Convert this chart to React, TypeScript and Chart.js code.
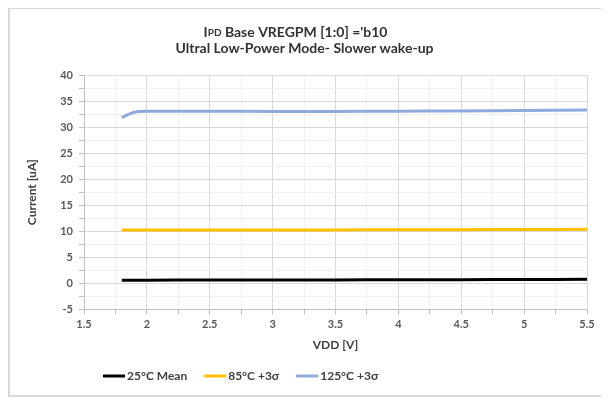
import React, { useEffect, useRef } from "react";
import { Chart, registerables } from "chart.js";

Chart.register(...registerables);

const vdd = [1.8, 1.85, 1.9, 1.95, 2.0, 2.5, 3.0, 3.5, 4.0, 4.5, 5.0, 5.5];
const mean25 = [0.62, 0.62, 0.62, 0.62, 0.62, 0.63, 0.64, 0.66, 0.68, 0.71, 0.74, 0.78];
const sigma85 = [10.22, 10.22, 10.22, 10.22, 10.22, 10.23, 10.24, 10.26, 10.28, 10.31, 10.34, 10.38];
const sigma125 = [31.8, 32.4, 32.85, 33.0, 33.05, 33.05, 33.0, 33.0, 33.05, 33.1, 33.2, 33.3];

const seriesNames = ["25°C Mean", "85°C +3σ", "125°C +3σ"];
const seriesColors = ["#000000", "#ffc000", "#8eaadb"];
const titleLine1Big = "I";
const titleLine1Small = "PD";
const titleLine1Rest = " Base VREGPM [1:0] ='b10";
const titleLine2 = "Ultral Low-Power Mode- Slower wake-up";
const xTitle = "VDD [V]";
const yTitle = "Current [uA]";

const FONT = "Lato, 'Open Sans', sans-serif";

const titlePlugin = {
  id: "mixedTitle",
  afterDraw(chart: any) {
    const ctx = chart.ctx;
    const cx = chart.width / 2 - 5;
    ctx.save();
    ctx.fillStyle = "#333333";
    ctx.textBaseline = "middle";
    const big = `bold 14px ${FONT}`;
    const small = `bold 10px ${FONT}`;
    ctx.font = big;
    const w1 = ctx.measureText(titleLine1Big).width;
    const w3 = ctx.measureText(titleLine1Rest).width;
    ctx.font = small;
    const w2 = ctx.measureText(titleLine1Small).width;
    let x = cx - 9 - (w1 + w2 + w3) / 2;
    const y1 = 23;
    ctx.textAlign = "left";
    ctx.font = big;
    ctx.fillText(titleLine1Big, x, y1);
    x += w1;
    ctx.font = small;
    ctx.fillText(titleLine1Small, x, y1 + 1);
    x += w2;
    ctx.font = big;
    ctx.fillText(titleLine1Rest, x, y1);
    ctx.textAlign = "center";
    ctx.fillText(titleLine2, cx, 39);
    ctx.restore();
  },
};

const legendPlugin = {
  id: "customLegend",
  afterDraw(chart: any) {
    const ctx = chart.ctx;
    ctx.save();
    ctx.font = `bold 12px ${FONT}`;
    ctx.textBaseline = "middle";
    ctx.textAlign = "left";
    const y = 367;
    let x = 93;
    seriesNames.forEach((name, i) => {
      ctx.fillStyle = seriesColors[i];
      ctx.fillRect(x, y - 1.5, 22, 3);
      x += 24;
      ctx.fillStyle = "#404040";
      ctx.fillText(name, x, y);
      x += ctx.measureText(name).width + 17;
    });
    ctx.restore();
  },
};

export default function App() {
  const ref = useRef<HTMLCanvasElement>(null);
  useEffect(() => {
    if (!ref.current) return;
    const datasets = [mean25, sigma85, sigma125].map((vals, i) => ({
      label: seriesNames[i],
      data: vals.map((v, j) => ({ x: vdd[j], y: v })),
      borderColor: seriesColors[i],
      backgroundColor: seriesColors[i],
      borderWidth: 3,
      pointRadius: 0,
      tension: 0.3,
      fill: false,
    }));
    const chart = new Chart(ref.current, {
      type: "line",
      data: { datasets },
      plugins: [titlePlugin, legendPlugin],
      options: {
        animation: false,
        responsive: true,
        maintainAspectRatio: false,
        layout: { padding: { top: 66, right: 22, left: 0, bottom: 39 } },
        plugins: {
          title: { display: false },
          tooltip: { enabled: false },
          legend: { display: false },
        },
        scales: {
          x: {
            type: "linear",
            min: 1.5,
            max: 5.5,
            ticks: {
              stepSize: 0.25,
              autoSkip: false,
              maxRotation: 0,
              color: "#595959",
              font: { family: FONT, size: 11, weight: "bold" },
              callback: (v: any) => (Math.abs(v * 2 - Math.round(v * 2)) < 1e-6 ? String(v) : ""),
            },
            grid: {
              color: (c: any) => {
                const v = c.tick ? c.tick.value : 0;
                return Math.abs(v * 2 - Math.round(v * 2)) < 1e-6 ? "#d9d9d9" : "#f0f0f0";
              },
              tickColor: "#bfbfbf",
              tickLength: 5,
            },
            border: { color: "#bfbfbf" },
            title: {
              display: true,
              text: xTitle,
              color: "#404040",
              font: { family: FONT, size: 12, weight: "bold" },
              padding: { top: 4, bottom: 4 },
            },
          },
          y: {
            min: -5,
            max: 40,
            afterFit: (s: any) => {
              s.width = 74;
            },
            ticks: {
              stepSize: 2.5,
              autoSkip: false,
              padding: 6,
              color: "#595959",
              font: { family: FONT, size: 11, weight: "bold" },
              callback: (v: any) => (Math.abs(v / 5 - Math.round(v / 5)) < 1e-6 ? String(v) : ""),
            },
            grid: {
              color: (c: any) => {
                const v = c.tick ? c.tick.value : 0;
                return Math.abs(v / 5 - Math.round(v / 5)) < 1e-6 ? "#d9d9d9" : "#f0f0f0";
              },
              tickColor: "#bfbfbf",
              tickLength: 5,
            },
            border: { color: "#bfbfbf" },
            title: {
              display: true,
              text: yTitle,
              color: "#404040",
              font: { family: FONT, size: 12, weight: "bold" },
              padding: { top: 15, bottom: 4 },
            },
          },
        },
      },
    });
    return () => chart.destroy();
  }, []);
  return (
    <div
      style={{
        position: "relative",
        width: 599,
        height: 386,
        borderTop: "2px solid #d9d9d9",
        borderLeft: "2px solid #d9d9d9",
        borderBottom: "2px solid #d9d9d9",
        marginTop: -1,
      }}
    >
      <canvas ref={ref} />
    </div>
  );
}
